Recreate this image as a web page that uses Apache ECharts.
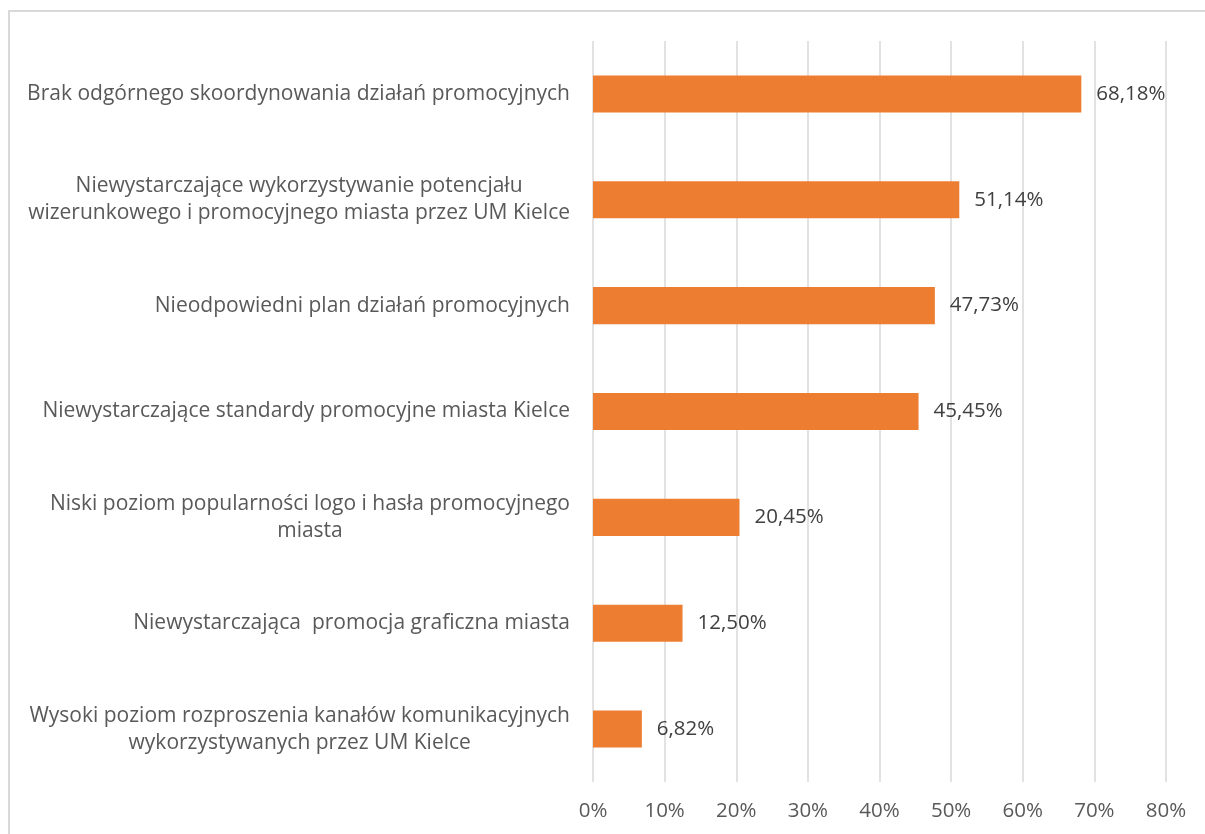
<!DOCTYPE html>
<html><head><meta charset="utf-8">
<script src="https://cdn.jsdelivr.net/npm/echarts@6/dist/echarts.min.js"></script>
<style>html,body{margin:0;padding:0;background:#fff;}#c{width:1205px;height:834px;}</style>
</head><body><div id="c"></div>
<script>
const categories = [
  "Brak odgórnego skoordynowania działań promocyjnych",
  "Niewystarczające wykorzystywanie potencjału\nwizerunkowego i promocyjnego miasta przez UM Kielce",
  "Nieodpowiedni plan działań promocyjnych",
  "Niewystarczające standardy promocyjne miasta Kielce",
  "Niski poziom popularności logo i hasła promocyjnego\nmiasta",
  "Niewystarczająca  promocja graficzna miasta",
  "Wysoki poziom rozproszenia kanałów komunikacyjnych\nwykorzystywanych przez UM Kielce"
];
const values = [68.18, 51.14, 47.73, 45.45, 20.45, 12.50, 6.82];
const axisMax = 80;
const axisStep = 10;

const font = "'Open Sans', sans-serif";
const fs = 21;
const chart = echarts.init(document.getElementById('c'), null, {renderer: 'canvas'});
chart.setOption({
  animation: false,
  graphic: [{
    type: 'rect', silent: true,
    shape: {x: 9, y: 11, width: 1400, height: 1000},
    style: {fill: 'none', stroke: '#d9d9d9', lineWidth: 2}
  }],
  grid: {left: 593, right: 39, top: 41, bottom: 52, containLabel: false},
  xAxis: {
    type: 'value', min: 0, max: axisMax, interval: axisStep,
    axisLine: {show: false}, axisTick: {show: false},
    splitLine: {show: true, lineStyle: {color: '#d9d9d9', width: 1.5}},
    axisLabel: {formatter: '{value}%', color: '#595959', fontSize: fs - 0.5, fontFamily: font, margin: 19}
  },
  yAxis: {
    type: 'category', data: categories, inverse: true,
    axisLine: {show: false}, axisTick: {show: false},
    axisLabel: {
      color: '#595959', fontSize: fs, fontFamily: font, margin: 23, lineHeight: 27, align: 'right',
      formatter: v => v.split('\n').map(l => '{c|' + l + '}').join('\n'),
      rich: {c: {align: 'center', color: '#595959', fontSize: fs, fontFamily: font, lineHeight: 27}}
    }
  },
  series: [{
    type: 'bar', data: values, barWidth: '35%',
    itemStyle: {color: '#ed7d31'},
    label: {
      show: true, position: 'right', distance: 15,
      color: '#404040', fontSize: fs - 0.5, fontFamily: font,
      formatter: p => p.value.toFixed(2).replace('.', ',') + '%'
    }
  }]
});
</script></body></html>
